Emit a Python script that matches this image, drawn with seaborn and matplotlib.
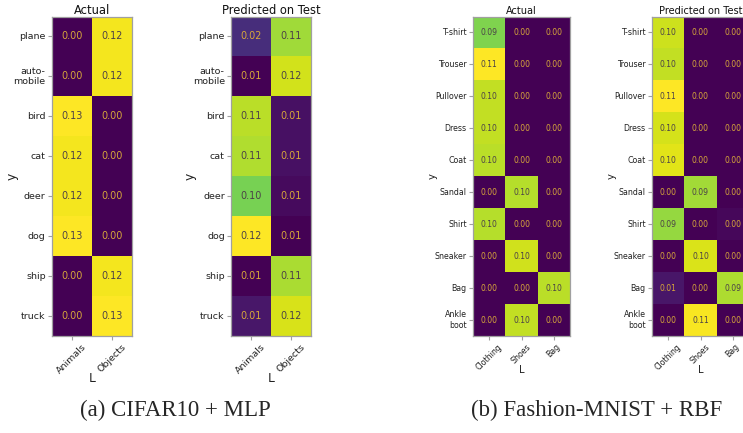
import numpy as np
import pandas as pd
import matplotlib
matplotlib.use("Agg")
import matplotlib.pyplot as plt
import seaborn as sns

# ---- CIFAR10 + MLP: class share per latent group ----
cifar_classes = ["plane", "auto-\nmobile", "bird", "cat", "deer", "dog", "ship", "truck"]
cifar_groups = ["Animals", "Objects"]
cifar_actual_animals = [0.000, 0.000, 0.126, 0.124, 0.124, 0.126, 0.000, 0.000]
cifar_actual_objects = [0.124, 0.124, 0.000, 0.000, 0.000, 0.000, 0.124, 0.126]
cifar_pred_animals = [0.021, 0.006, 0.112, 0.110, 0.100, 0.124, 0.006, 0.013]
cifar_pred_objects = [0.107, 0.116, 0.011, 0.011, 0.009, 0.006, 0.109, 0.117]

# ---- Fashion-MNIST + RBF ----
fashion_classes = ["T-shirt", "Trouser", "Pullover", "Dress", "Coat", "Sandal",
                   "Shirt", "Sneaker", "Bag", "Ankle\nboot"]
fashion_groups = ["Clothing", "Shoes", "Bag"]
fashion_actual_clothing = [0.087, 0.108, 0.098, 0.098, 0.097, 0.000, 0.096, 0.000, 0.000, 0.000]
fashion_actual_shoes = [0.000, 0.000, 0.000, 0.000, 0.000, 0.096, 0.000, 0.100, 0.000, 0.098]
fashion_actual_bag = [0.000, 0.000, 0.000, 0.000, 0.000, 0.000, 0.000, 0.000, 0.097, 0.000]
fashion_pred_clothing = [0.099, 0.097, 0.107, 0.100, 0.102, 0.000, 0.090, 0.000, 0.006, 0.000]
fashion_pred_shoes = [0.000, 0.000, 0.000, 0.000, 0.000, 0.092, 0.000, 0.101, 0.000, 0.106]
fashion_pred_bag = [0.000, 0.000, 0.000, 0.000, 0.000, 0.000, 0.002, 0.000, 0.094, 0.000]

sns.set_style("white")
plt.rcParams["font.family"] = ["DejaVu Sans"]

fig = plt.figure(figsize=(7.43, 4.33), dpi=100)

W, H = 743.0, 433.0


def add_ax(left_px, width_px, top_px=16.5, bottom_px=336.0):
    return fig.add_axes([left_px / W, 1 - bottom_px / H,
                         width_px / W, (bottom_px - top_px) / H])


def draw(ax, cols, groups, rows, title, tick_fs, annot_fs, title_fs, label_fs,
         ylabel_x, xlabel_y):
    df = pd.DataFrame(dict(zip(groups, cols)), index=rows)
    sns.heatmap(df, ax=ax, cmap="viridis", cbar=False, annot=True, fmt=".2f",
                annot_kws={"fontsize": annot_fs})
    vmin, vmax = df.values.min(), df.values.max()
    cmap = plt.get_cmap("viridis")
    flat = df.values.flatten()
    for txt, v in zip(ax.texts, flat):
        r, g, b, _ = cmap((v - vmin) / (vmax - vmin))
        lum = 0.299 * r + 0.587 * g + 0.114 * b
        txt.set_color("#d8a83a" if lum < 0.45 else "#4a4048")
    for sp in ax.spines.values():
        sp.set_visible(True)
        sp.set_color("#a0a0a0")
        sp.set_linewidth(0.9)
    ax.tick_params(axis="both", which="both", length=3, width=0.8,
                   color="#a0a0a0", labelsize=tick_fs, pad=1.5,
                   bottom=True, left=True, labelcolor="#222222")
    ax.set_yticklabels(rows, rotation=0, fontsize=tick_fs)
    ax.set_xticklabels(groups, rotation=45, ha="center", fontsize=tick_fs)
    ax.set_title(title, fontsize=title_fs, pad=1.5, color="#111111")
    ax.set_ylabel("")
    ax.set_xlabel("")
    bb = ax.get_position()
    fig.text(ylabel_x / W, (bb.y0 + bb.y1) / 2, "y", fontsize=label_fs,
             rotation=90, ha="center", va="center", color="#222222")
    fig.text((bb.x0 + bb.x1) / 2, 1 - xlabel_y / H, "L", fontsize=label_fs,
             ha="center", va="center", color="#222222")


ax1 = add_ax(52, 80)
draw(ax1, [cifar_actual_animals, cifar_actual_objects], cifar_groups, cifar_classes,
     "Actual", 6.8, 6.9, 8.3, 8.8, 12, 379)

ax2 = add_ax(231, 80)
draw(ax2, [cifar_pred_animals, cifar_pred_objects], cifar_groups, cifar_classes,
     "Predicted on Test", 6.8, 6.9, 8.3, 8.8, 190, 379)

ax3 = add_ax(473, 97)
draw(ax3, [fashion_actual_clothing, fashion_actual_shoes, fashion_actual_bag],
     fashion_groups, fashion_classes, "Actual", 5.7, 5.5, 7.0, 7.2, 433, 370)

ax4 = add_ax(652, 97)
draw(ax4, [fashion_pred_clothing, fashion_pred_shoes, fashion_pred_bag],
     fashion_groups, fashion_classes, "Predicted on Test", 5.7, 5.5, 7.0, 7.2, 612, 370)

fig.text(175 / W, 1 - 410 / H, "(a) CIFAR10 + MLP", fontsize=16.5,
         family=["Liberation Serif"], ha="center", va="center")
fig.text(597 / W, 1 - 410 / H, "(b) Fashion-MNIST + RBF", fontsize=16.5,
         family=["Liberation Serif"], ha="center", va="center")

fig.savefig("out.png", dpi=100)
